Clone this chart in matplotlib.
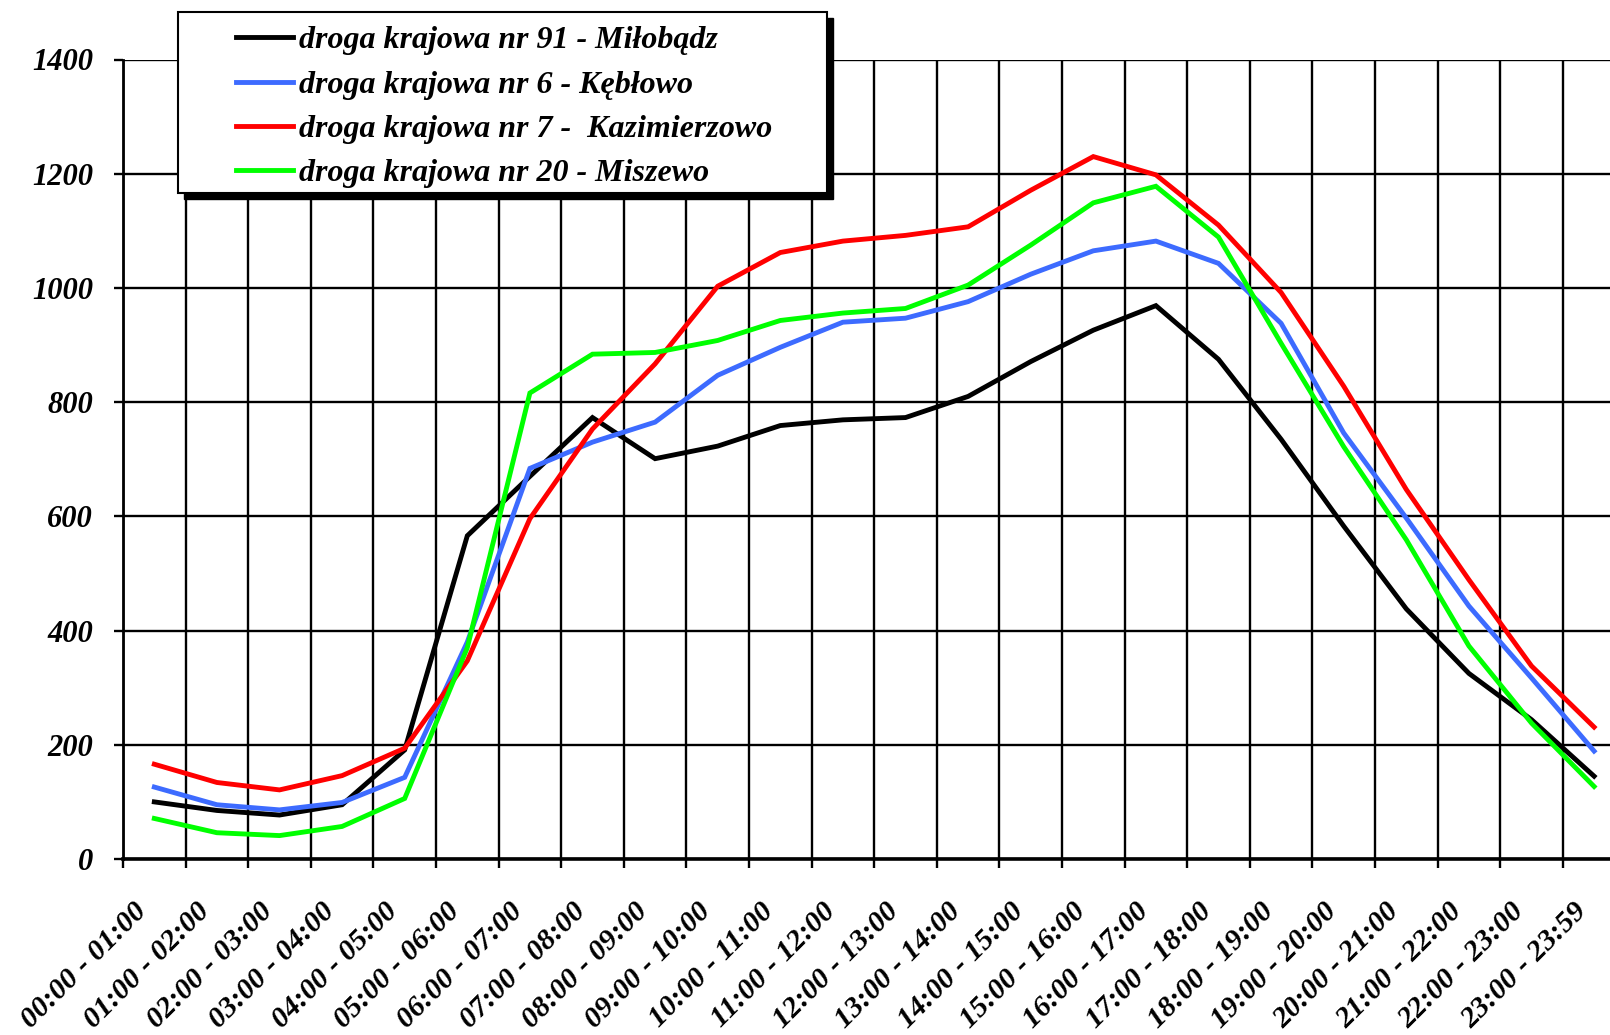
import numpy as np
import matplotlib
matplotlib.use('Agg')
import matplotlib.pyplot as plt
from matplotlib.patches import Rectangle
from matplotlib.transforms import ScaledTranslation

# ── Estilo ───────────────────────────────────────────────────────────────────
plt.rcParams.update({
    'font.family': 'Liberation Serif',
    'font.weight': 'bold',
    'font.style': 'italic',
    'font.size': 22,
})

# ── Datos (natężenie ruchu, poj./h) ──────────────────────────────────────────
hours = [
    '00:00 - 01:00', '01:00 - 02:00', '02:00 - 03:00', '03:00 - 04:00',
    '04:00 - 05:00', '05:00 - 06:00', '06:00 - 07:00', '07:00 - 08:00',
    '08:00 - 09:00', '09:00 - 10:00', '10:00 - 11:00', '11:00 - 12:00',
    '12:00 - 13:00', '13:00 - 14:00', '14:00 - 15:00', '15:00 - 16:00',
    '16:00 - 17:00', '17:00 - 18:00', '18:00 - 19:00', '19:00 - 20:00',
    '20:00 - 21:00', '21:00 - 22:00', '22:00 - 23:00', '23:00 - 23:59',
]

milobadz = [100, 85, 77, 95, 191, 566, 670, 773, 701, 723, 759, 769,
            773, 810, 871, 926, 969, 875, 735, 583, 438, 325, 244, 145]
keblowo = [126, 95, 86, 99, 143, 380, 684, 730, 765, 847, 896, 940,
           947, 976, 1024, 1065, 1082, 1043, 938, 746, 597, 443, 317, 189]
kazimierzowo = [166, 134, 121, 146, 194, 347, 596, 753, 867, 1003, 1062, 1082,
                1092, 1107, 1171, 1230, 1198, 1110, 992, 828, 647, 489, 338, 231]
miszewo = [71, 46, 41, 57, 106, 370, 816, 884, 887, 908, 943, 956,
           964, 1005, 1075, 1149, 1178, 1089, 903, 722, 559, 373, 238, 127]

series = [
    ('droga krajowa nr 91 - Miłobądz', milobadz, '#000000'),
    ('droga krajowa nr 6 - Kębłowo', keblowo, '#3D6BFF'),
    ('droga krajowa nr 7 -  Kazimierzowo', kazimierzowo, '#FF0000'),
    ('droga krajowa nr 20 - Miszewo', miszewo, '#00FF00'),
]

W, H = 1610, 1035

# ── Figura ───────────────────────────────────────────────────────────────────
fig = plt.figure(figsize=(W / 100, H / 100), dpi=100)
# obszar wykresu wychodzi poza prawą krawędź (jak w oryginale)
ax = fig.add_axes([123 / W, 1 - 859 / H, 24 * 62.6 / W, (859 - 59.5) / H])

x = np.arange(len(hours)) + 0.5
handles = []
for label, vals, color in series:
    ln, = ax.plot(x, vals, color=color, lw=3.5, label=label, zorder=3,
                  solid_joinstyle='miter')
    handles.append(ln)

ax.set_xlim(0, len(hours))
ax.set_ylim(0, 1400)

# siatka
ax.set_xticks(np.arange(len(hours) + 1))
ax.set_xticklabels([])
ax.set_xticks(x, minor=True)
ax.set_xticklabels(hours, minor=True, rotation=45, ha='right', va='top',
                   rotation_mode='anchor', fontsize=21.5)
ax.set_yticks(np.arange(0, 1401, 200))
ax.grid(True, which='major', color='black', lw=1.7)
ax.set_axisbelow(True)

ax.tick_params(axis='both', which='major', direction='out', length=6.5,
               width=1.7, color='black')
ax.tick_params(axis='y', pad=15)
ax.tick_params(axis='x', which='minor', length=0, pad=28)

offset = ScaledTranslation(-21 / 100, 0, fig.dpi_scale_trans)
for lab in ax.get_xticklabels(minor=True):
    lab.set_transform(lab.get_transform() + offset)

for side in ('top', 'right'):
    ax.spines[side].set_visible(False)
ax.spines['left'].set_linewidth(2.0)
ax.spines['bottom'].set_linewidth(2.6)

# ── Legenda z cieniem ────────────────────────────────────────────────────────
bx0, by0, bx1, by1 = 178, 12, 827, 193
fig.patches.append(Rectangle(((bx0 + 6) / W, 1 - (by1 + 6) / H),
                             (bx1 - bx0) / W, (by1 - by0) / H,
                             transform=fig.transFigure, facecolor='black',
                             edgecolor='black', zorder=3))
fig.patches.append(Rectangle((bx0 / W, 1 - by1 / H),
                             (bx1 - bx0) / W, (by1 - by0) / H,
                             transform=fig.transFigure, facecolor='white',
                             edgecolor='black', lw=1.5, zorder=4))
fig.legend(handles=handles, loc='upper left', bbox_to_anchor=(236 / W, 1 - 26 / H),
           frameon=False, fontsize=23, borderpad=0, borderaxespad=0,
           handlelength=1.78, handletextpad=0.18, labelspacing=0.47)

fig.savefig('out.png', dpi=100)
